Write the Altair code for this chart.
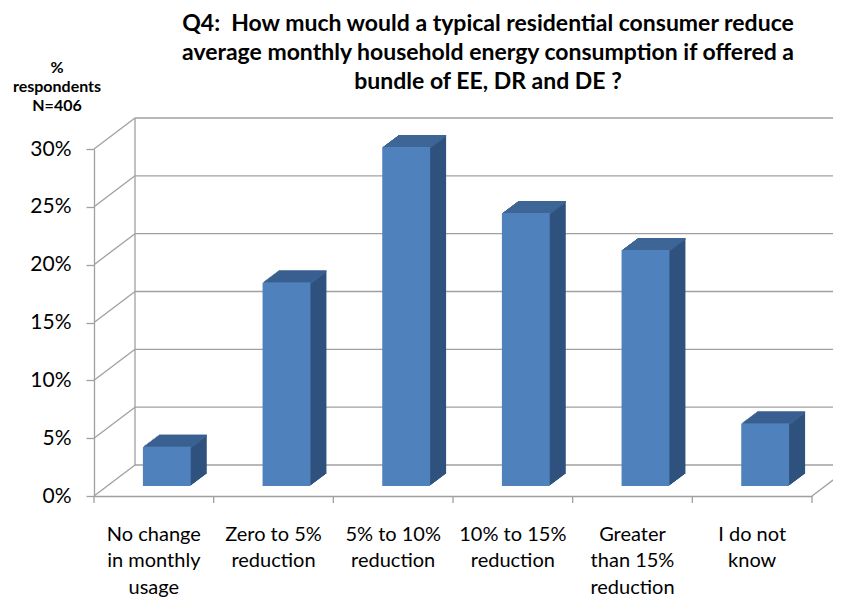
import altair as alt
import pandas as pd

# ---------------- data ----------------
CATEGORIES = [
    "No change|in monthly|usage",
    "Zero to 5%|reduction",
    "5% to 10%|reduction",
    "10% to 15%|reduction",
    "Greater|than 15%|reduction",
    "I do not|know",
]
VALUES = [0.034, 0.176, 0.293, 0.236, 0.204, 0.054]
Y_TICKS = [0.0, 0.05, 0.10, 0.15, 0.20, 0.25, 0.30]
TITLE_LINES = [
    "Q4:\u00a0 How much would a typical residential consumer reduce",
    "average monthly household energy consumption if offered a",
    "bundle of EE, DR and DE ?",
]
SIDE_NOTE = ["%", "respondents", "N=406"]

# ---------------- style ----------------
W, H = 718, 347
WALL_DX, WALL_DY = 41, 31          # depth of the back wall
BAR_DX, BAR_DY = 13, 10            # front plane of the bars
DEPTH_DX, DEPTH_DY = 16, 12        # bar depth
STEPS = 12
STEP_PX = W / len(CATEGORIES)
FRONT = "#4f81bd"
TOP = "#3d6596"
SIDE = "#30527e"
GRID = "#a0a0a0"
GW = 1.3
FONT = "Lato"

bars = pd.DataFrame({"cat": CATEGORIES, "value": VALUES})
ticks = pd.DataFrame({"v": Y_TICKS})
ends = pd.DataFrame({"lo": [Y_TICKS[0]], "hi": [Y_TICKS[-1]]})

x_scale = alt.Scale(domain=CATEGORIES, paddingInner=0.6, paddingOuter=0.3)
y_scale = alt.Scale(domain=[Y_TICKS[0], Y_TICKS[-1]], nice=False)

x_axis = alt.Axis(
    labelExpr="split(datum.label, '|')",
    labelFont=FONT, labelFontSize=20, labelColor="black",
    labelLineHeight=26.5, labelBaseline="alphabetic", labelPadding=44,
    labelAngle=0, ticks=False, domainColor=GRID, domainWidth=GW,
    labelLimit=300, title=None,
)
y_axis = alt.Axis(
    values=Y_TICKS, format=".0%",
    labelFont=FONT, labelFontSize=21, labelColor="black", labelPadding=15,
    tickColor=GRID, tickSize=8, tickWidth=GW, domainColor=GRID, domainWidth=GW,
    grid=False, title=None,
)


def X(**kw):
    return alt.X("cat:N", scale=x_scale, sort=CATEGORIES, axis=x_axis, title=None, **kw)


def Y(field):
    return alt.Y(f"{field}:Q", scale=y_scale, axis=y_axis, title=None)


layers = []

# back wall gridlines
layers.append(
    alt.Chart(ticks).mark_rule(color=GRID, strokeWidth=GW, yOffset=-WALL_DY).encode(
        y=Y("v"), x=alt.value(WALL_DX), x2=alt.value(W + WALL_DX)
    )
)
# left wall diagonals
layers.append(
    alt.Chart(ticks).mark_rule(color=GRID, strokeWidth=GW, y2Offset=-WALL_DY).encode(
        y=Y("v"), y2=alt.Y2("v:Q"), x=alt.value(0), x2=alt.value(WALL_DX)
    )
)
# left wall back edge
layers.append(
    alt.Chart(ends).mark_rule(color=GRID, strokeWidth=GW, yOffset=-WALL_DY, y2Offset=-WALL_DY).encode(
        y=Y("lo"), y2=alt.Y2("hi:Q"), x=alt.value(WALL_DX)
    )
)
# floor right diagonal
layers.append(
    alt.Chart(ends).mark_rule(color=GRID, strokeWidth=GW, y2Offset=-WALL_DY).encode(
        y=Y("lo"), y2=alt.Y2("lo:Q"), x=alt.value(W), x2=alt.value(W + WALL_DX)
    )
)
# category boundary ticks
layers.append(
    alt.Chart(bars).mark_rule(color=GRID, strokeWidth=GW, xOffset=-STEP_PX / 2).encode(
        x=X(), y=alt.value(H), y2=alt.value(H + 7)
    )
)
layers.append(
    alt.Chart(ends).mark_rule(color=GRID, strokeWidth=GW).encode(
        x=alt.value(W), y=alt.value(H), y2=alt.value(H + 7)
    )
)

# 3D bars: extruded copies from back to front
for k in range(STEPS, 0, -1):
    dx = BAR_DX + DEPTH_DX * k / STEPS
    dy = BAR_DY + DEPTH_DY * k / STEPS
    layers.append(
        alt.Chart(bars).mark_bar(color=SIDE, xOffset=dx, yOffset=-dy, y2Offset=-dy).encode(
            x=X(), y=Y("value")
        )
    )
    layers.append(
        alt.Chart(bars).mark_bar(color=TOP, xOffset=dx, yOffset=-dy, y2Offset=-dy + 2).encode(
            x=X(), y=Y("value"), y2=alt.Y2("value:Q")
        )
    )

# front faces
layers.append(
    alt.Chart(bars).mark_bar(color=FRONT, xOffset=BAR_DX, yOffset=-BAR_DY, y2Offset=-BAR_DY).encode(
        x=X(), y=Y("value")
    )
)

# title and side note as text
title_df = pd.DataFrame({"t": ["\n".join(TITLE_LINES)]})
layers.append(
    alt.Chart(title_df).mark_text(
        font=FONT, fontWeight="bold", fontSize=23, lineBreak="\n", lineHeight=29,
        align="center", baseline="top", color="black",
    ).encode(text="t:N", x=alt.value(394), y=alt.value(-136))
)
note_df = pd.DataFrame({"t": ["\n".join(SIDE_NOTE)]})
layers.append(
    alt.Chart(note_df).mark_text(
        font=FONT, fontWeight="bold", fontSize=16, lineBreak="\n", lineHeight=19,
        align="center", baseline="top", color="black",
    ).encode(text="t:N", x=alt.value(-37), y=alt.value(-89))
)

chart = alt.layer(*layers).properties(
    width=W, height=H,
    padding={"left": 86, "top": 141, "right": 21, "bottom": 102},
    autosize=alt.AutoSizeParams(type="none"),
).configure_view(stroke=None)

chart.save("out.html", embed_options={"renderer": "svg", "actions": False})
